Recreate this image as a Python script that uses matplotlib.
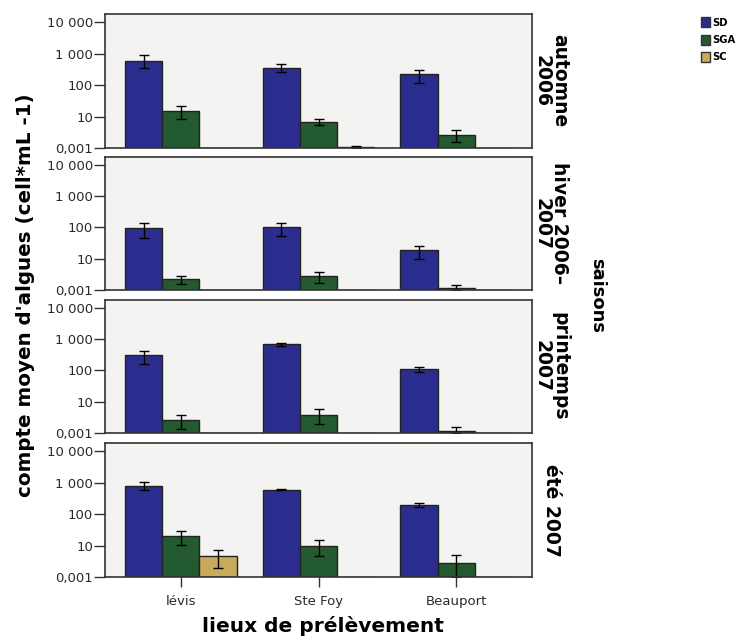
import numpy as np
import matplotlib
matplotlib.use('Agg')
import matplotlib.pyplot as plt
from matplotlib.patches import Patch

plt.rcParams['font.family'] = ['DejaVu Sans']

# lieux et saisons
lieux = ["lévis", "Ste Foy", "Beauport"]
saisons = ["automne\n2006", "hiver 2006–\n2007", "printemps\n2007", "été 2007"]
groupes = ["SD", "SGA", "SC"]
couleurs = ["#2b2d8e", "#235a2f", "#c9aa5a"]

# moyennes (cell*mL-1), une liste par saison, valeurs par lieu
sd = [[590, 355, 225], [96, 100, 19], [310, 690, 112], [800, 600, 190]]
sga = [[14.5, 6.9, 2.6], [2.3, 2.9, 1.2], [2.7, 3.9, 1.2], [20, 9.5, 2.7]]
sc = [[1.0, 1.1, 1.0], [1.0, 1.0, 1.0], [1.0, 1.0, 1.0], [4.5, 1.0, 1.0]]

# bornes des barres d'erreur (bas, haut)
sd_err = [[(355, 870), (260, 470), (115, 300)],
          [(47, 140), (53, 140), (10, 26)],
          [(160, 415), (600, 750), (90, 128)],
          [(600, 1070), (570, 640), (165, 220)]]
sga_err = [[(8.6, 21), (5.5, 8.6), (1.6, 3.8)],
           [(1.6, 2.9), (1.7, 3.9), (1.0, 1.4)],
           [(1.3, 3.9), (2.0, 6.0), (1.0, 1.5)],
           [(10.7, 29), (4.5, 15.4), (1.0, 4.9)]]
sc_err = [[None, (1.0, 1.2), None],
          [None, None, None],
          [None, None, None],
          [(1.9, 7.0), None, None]]

fig = plt.figure(figsize=(7.51, 6.4), dpi=100)

panel_px = [(14, 148), (157, 290), (300, 433), (443, 577)]
x = np.arange(len(lieux))
w = 0.27
offsets = [-w, 0, w]

for i, (top, bot) in enumerate(panel_px):
    ax = fig.add_axes([105 / 751, 1 - bot / 640, 427 / 751, (bot - top) / 640])
    ax.set_facecolor("#f3f3f1")
    ax.set_yscale('log')
    for vals, errs, col, off in zip([sd[i], sga[i], sc[i]], [sd_err[i], sga_err[i], sc_err[i]], couleurs, offsets):
        h = np.array(vals) - 1.0
        ax.bar(x + off, h, width=w, bottom=1, color=col, edgecolor="#222222", linewidth=1.0)
        for xi, v, e in zip(x + off, vals, errs):
            if e is None:
                continue
            ax.errorbar(xi, v, yerr=[[v - e[0]], [e[1] - v]], color="black", capsize=3.5, linewidth=1.0, capthick=1.0)
    ax.set_ylim(1, 18000)
    ax.set_xlim(-0.55, 2.55)
    ax.set_yticks([1, 10, 100, 1000, 10000])
    ax.set_yticklabels(["0,001", "10", "100", "1 000", "10 000"], fontsize=9.5, color="#2a2a2a")
    ax.minorticks_off()
    ax.tick_params(axis='y', length=8, width=1, direction='out', pad=0.5, color="#333333")
    for s in ax.spines.values():
        s.set_color("#333333")
        s.set_linewidth(1.2)
    if i == len(panel_px) - 1:
        ax.set_xticks(x)
        ax.set_xticklabels(lieux, fontsize=9.5, color="#2a2a2a")
        ax.tick_params(axis='x', length=7, width=1, pad=6, color="#333333")
    else:
        ax.set_xticks([])
    ax.text(1.045, 0.5, saisons[i], transform=ax.transAxes, rotation=-90,
            ha='center', va='center', multialignment='center',
            fontsize=13.5, fontweight='bold', linespacing=0.9)

fig.text(26 / 751, 1 - 295 / 640, "compte moyen d'algues (cell*mL -1)", rotation=90,
         ha='center', va='center', fontsize=14.3, fontweight='bold')
fig.text(323 / 751, 1 - 626 / 640, "lieux de prélèvement", ha='center', va='center',
         fontsize=14.5, fontweight='bold')
fig.text(597 / 751, 1 - 296 / 640, "saisons", rotation=-90, ha='center', va='center',
         fontsize=13, fontweight='bold')

handles = [Patch(facecolor=c, edgecolor="#333333", label=g) for c, g in zip(couleurs, groupes)]
fig.legend(handles=handles, loc='upper left', bbox_to_anchor=(701 / 751, 1 - 17 / 640),
           frameon=False, handlelength=0.9, handleheight=1.2,
           handletextpad=0.2, labelspacing=0.7, borderaxespad=0, borderpad=0,
           prop={'weight': 'bold', 'size': 7.2})

fig.savefig("out.png", dpi=100)
